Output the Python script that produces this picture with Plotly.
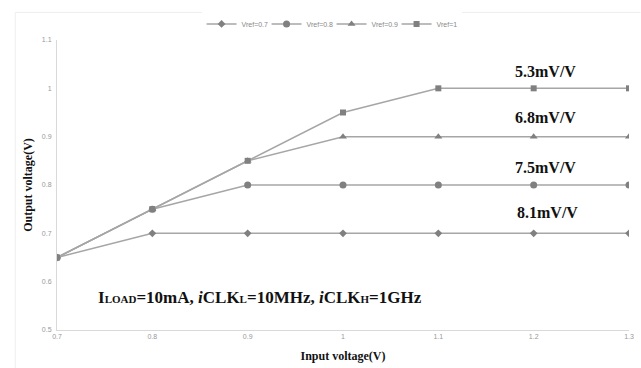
import plotly.graph_objects as go

x_vals = [0.7, 0.8, 0.9, 1.0, 1.1, 1.2, 1.3]
series_names = ["Vref=0.7", "Vref=0.8", "Vref=0.9", "Vref=1"]
vref_07 = [0.65, 0.70, 0.70, 0.70, 0.70, 0.70, 0.70]
vref_08 = [0.65, 0.75, 0.80, 0.80, 0.80, 0.80, 0.80]
vref_09 = [0.65, 0.75, 0.85, 0.90, 0.90, 0.90, 0.90]
vref_10 = [0.65, 0.75, 0.85, 0.95, 1.00, 1.00, 1.00]
x_ticks = [0.7, 0.8, 0.9, 1.0, 1.1, 1.2, 1.3]
x_tick_text = ["0.7", "0.8", "0.9", "1", "1.1", "1.2", "1.3"]
y_ticks = [0.5, 0.6, 0.7, 0.8, 0.9, 1.0, 1.1]
y_tick_text = ["0.5", "0.6", "0.7", "0.8", "0.9", "1", "1.1"]
slope_labels = ["8.1mV/V", "7.5mV/V", "6.8mV/V", "5.3mV/V"]
slope_x = [1.215, 1.212, 1.212, 1.212]
slope_y = [0.744, 0.837, 0.939, 1.034]

symbols = ["diamond", "circle", "triangle-up", "square"]
sizes = [6, 7, 7, 6]
series = [vref_07, vref_08, vref_09, vref_10]

fig = go.Figure()
for name, ys, sym, sz in zip(series_names, series, symbols, sizes):
    fig.add_trace(go.Scatter(
        x=x_vals, y=ys, name=name, mode="lines+markers",
        line=dict(color="#a6a6a6", width=1.5),
        marker=dict(symbol=sym, size=sz, color="#808080"),
    ))

for txt, ax, ay in zip(slope_labels, slope_x, slope_y):
    fig.add_annotation(x=ax, y=ay, text=f"<b>{txt}</b>", showarrow=False,
                       font=dict(family="Liberation Serif", size=16, color="#111"))

small = "<span style='font-size:11px'>"
fig.add_annotation(x=0.913, y=0.568,
                   text=f"<b>I{small}LOAD</span>=10mA, <i>i</i>CLK{small}L</span>=10MHz, <i>i</i>CLK{small}H</span>=1GHz</b>",
                   showarrow=False,
                   font=dict(family="Liberation Serif", size=17, color="#111"))

fig.update_layout(
    width=641, height=368,
    margin=dict(l=57, r=12, t=40, b=38, autoexpand=False),
    paper_bgcolor="white", plot_bgcolor="white",
    showlegend=True,
    legend=dict(orientation="h", x=0.48, xanchor="center", y=0.935, yanchor="middle",
                yref="container", itemwidth=30, entrywidth=20,
                font=dict(family="Liberation Sans", size=7, color="#888"),
                tracegroupgap=0),
    xaxis=dict(range=[0.7, 1.3], tickvals=x_ticks, ticktext=x_tick_text,
               showgrid=False, zeroline=False, showline=True, linecolor="#d9d9d9",
               tickfont=dict(family="Liberation Sans", size=7, color="#999"),
               title=dict(text="<b>Input voltage(V)</b>", standoff=12,
                          font=dict(family="Liberation Serif", size=12, color="#111"))),
    yaxis=dict(range=[0.5, 1.1], tickvals=y_ticks, ticktext=y_tick_text,
               showgrid=False, zeroline=False, showline=True, linecolor="#d9d9d9",
               tickfont=dict(family="Liberation Sans", size=7, color="#999"),
               ticklabelstandoff=3,
               title=dict(text="<b>Output voltage(V)</b>", standoff=6,
                          font=dict(family="Liberation Serif", size=12, color="#111"))),
)

fig.add_shape(type="line", xref="paper", yref="paper", x0=-0.073, x1=-0.073, y0=-0.14, y1=1.095,
              line=dict(color="#eeeeee", width=1))
fig.add_shape(type="line", xref="paper", yref="paper", x0=-0.073, x1=1.02, y0=1.095, y1=1.095,
              line=dict(color="#eeeeee", width=1))

fig.write_html("out.html")
